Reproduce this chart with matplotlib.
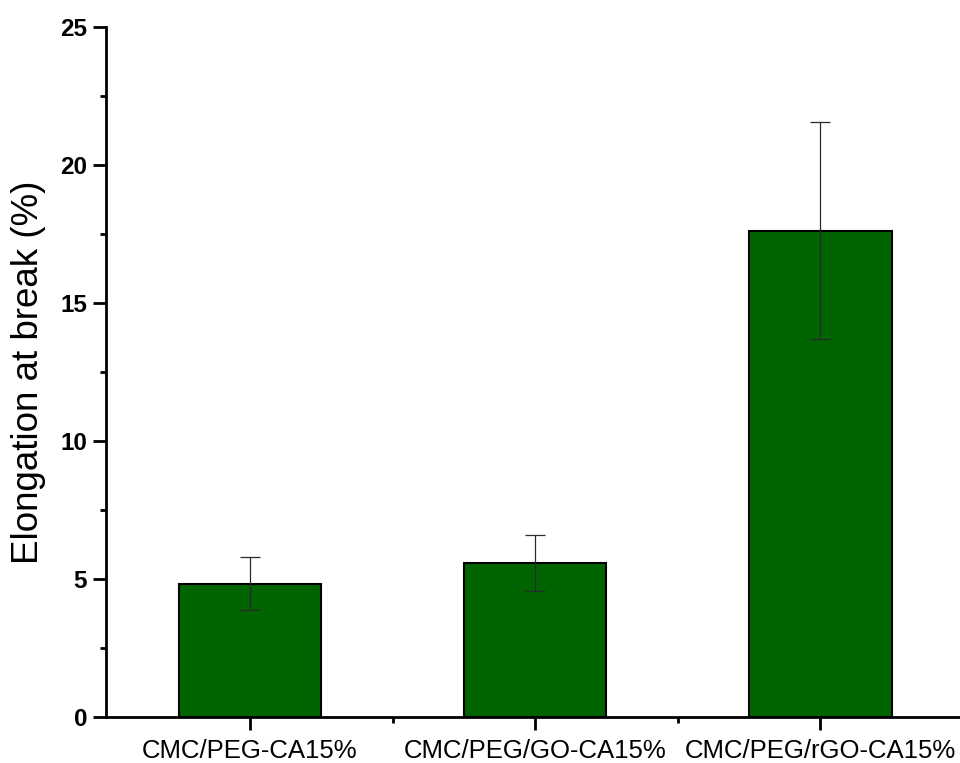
import numpy as np
import matplotlib.pyplot as plt
from matplotlib.ticker import MultipleLocator

samples = ["CMC/PEG-CA15%", "CMC/PEG/GO-CA15%", "CMC/PEG/rGO-CA15%"]
elongation = [4.83, 5.58, 17.62]
elongation_err = [0.96, 1.02, 3.94]

plt.rcParams["font.family"] = ["Liberation Sans", "DejaVu Sans"]

fig = plt.figure(figsize=(9.6, 7.63), dpi=100)
ax = fig.add_axes([0.1104, 0.0603, 0.8896, 0.9043])

x = np.arange(1, len(samples) + 1)
ax.bar(x, elongation, width=0.5, color="#006400", edgecolor="black", linewidth=1.5, zorder=2)
ax.errorbar(x, elongation, yerr=elongation_err, fmt="none", ecolor="#2a2a2a",
            elinewidth=0.9, capsize=7, capthick=0.9, zorder=3)

ax.set_xlim(0.495, 3.49)
ax.set_ylim(0, 25)
ax.yaxis.set_major_locator(MultipleLocator(5))
ax.yaxis.set_minor_locator(MultipleLocator(2.5))
ax.set_xticks(x)
ax.set_xticks([1.5, 2.5], minor=True)
ax.set_xticklabels(samples, fontsize=18.5)

for side in ("top", "right"):
    ax.spines[side].set_visible(False)
for side in ("left", "bottom"):
    ax.spines[side].set_linewidth(2)

ax.tick_params(axis="y", which="major", direction="out", length=9.5, width=2, labelsize=17.5, pad=4)
ax.tick_params(axis="y", which="minor", direction="out", length=4.5, width=2)
ax.tick_params(axis="x", which="major", direction="out", length=9.5, width=2, pad=6)
ax.tick_params(axis="x", which="minor", direction="out", length=4.5, width=2)
for lbl in ax.get_yticklabels():
    lbl.set_fontweight("bold")

ax.set_ylabel("Elongation at break (%)", fontsize=26.5, labelpad=10)

fig.savefig("out.png", dpi=100)
